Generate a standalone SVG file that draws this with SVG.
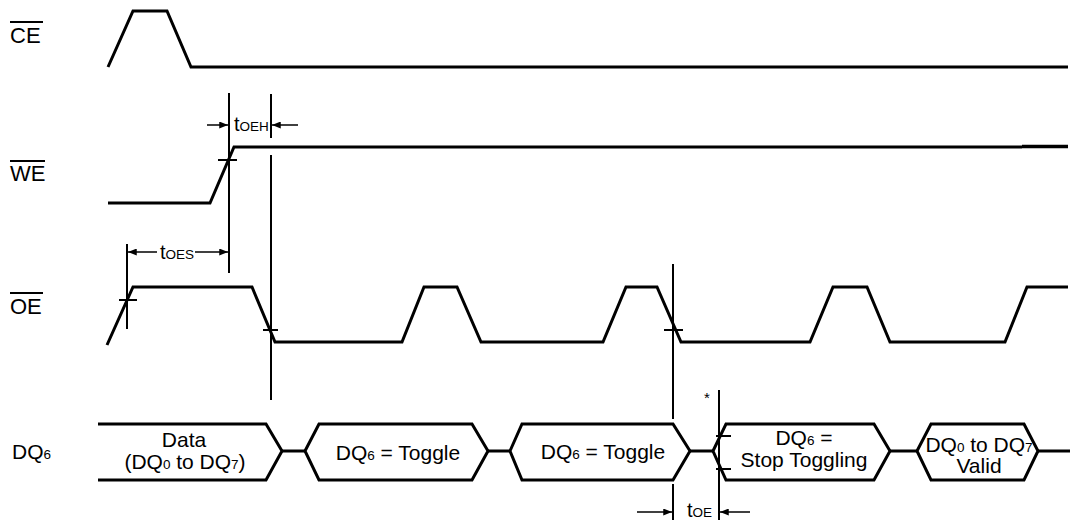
<svg xmlns="http://www.w3.org/2000/svg" width="1073" height="520" viewBox="0 0 1073 520">
<defs>
<style>
.w{fill:none;stroke:#000;stroke-width:3;stroke-linejoin:miter}
.t{fill:none;stroke:#000;stroke-width:2}
.a{fill:none;stroke:#000;stroke-width:1.5}
.lbl{font-family:"Liberation Sans",Arial,sans-serif;font-size:22px;fill:#000}
.bx{font-family:"Liberation Sans",Arial,sans-serif;font-size:21px;fill:#000}
.tm{font-family:"Liberation Sans",Arial,sans-serif;font-size:20px;fill:#000}
.sub{font-size:13.5px}
</style>
<marker id="ah" viewBox="0 0 10 8" refX="10" refY="4" markerWidth="9" markerHeight="7" markerUnits="userSpaceOnUse" orient="auto">
<path d="M0,0 L10,4 L0,8 Z" fill="#000"/>
</marker>
</defs>
<rect width="1073" height="520" fill="#fff"/>

<g id="ce">
<text class="lbl" x="10" y="43">CE</text>
<line class="t" x1="10" y1="22" x2="43" y2="22"/>
<path class="w" d="M108,67 L133,11 L167,11 L191,67 L1068,67"/>
</g>

<g id="we">
<text class="lbl" x="10" y="181">WE</text>
<line class="t" x1="10" y1="161" x2="45" y2="161"/>
<path class="w" d="M108,203 L210,203 L234,147 L1022,147"/>
<line x1="1022" y1="146.5" x2="1068" y2="146.5" stroke="#000" stroke-width="3.5"/>
<line class="t" x1="218" y1="160" x2="237" y2="160"/>
</g>

<g id="oe">
<text class="lbl" x="10" y="314">OE</text>
<line class="t" x1="10" y1="293" x2="43" y2="293"/>
<path class="w" d="M107,345 L133,287 L252,287 L275,342 L402,342 L424,287 L457,287 L481,342 L603,342 L626,287 L657,287 L681,342 L810,342 L833,287 L867,287 L890,342 L1005,342 L1027,287 L1068,287"/>
<line class="t" x1="119" y1="300" x2="137" y2="300"/>
<line class="t" x1="263" y1="330" x2="278" y2="330"/>
<line class="t" x1="664" y1="330" x2="683" y2="330"/>
</g>

<g id="dq6">
<text class="bx" x="12" y="459">DQ<tspan class="sub">6</tspan></text>
<path class="w" d="M98,424 L266,424 L282,451 L266,480 L98,480"/>
<path class="w" d="M282,451 L305,451 M488,451 L510,451 M690,451 L713,451 M890,451 L917,451 M1038,451 L1070,451"/>
<path class="w" d="M305,451 L319,424 L472,424 L488,451 L472,480 L319,480 Z"/>
<path class="w" d="M510,451 L522,424 L673,424 L690,451 L673,480 L522,480 Z"/>
<path class="w" d="M713,451 L726,424 L874,424 L890,451 L874,480 L726,480 Z"/>
<path class="w" d="M917,451 L931,424 L1024,424 L1038,451 L1024,480 L931,480 Z"/>
<line class="t" x1="716" y1="436" x2="731" y2="436"/>
<line class="t" x1="716" y1="469" x2="731" y2="469"/>
<text class="bx" x="184" y="447" text-anchor="middle">Data</text>
<text class="bx" x="185" y="469" text-anchor="middle">(DQ<tspan class="sub">0</tspan> to DQ<tspan class="sub">7</tspan>)</text>
<text class="bx" x="398" y="460" text-anchor="middle">DQ<tspan class="sub">6</tspan> = Toggle</text>
<text class="bx" x="603" y="459" text-anchor="middle">DQ<tspan class="sub">6</tspan> = Toggle</text>
<text class="bx" x="804" y="445" text-anchor="middle">DQ<tspan class="sub">6</tspan> =</text>
<text class="bx" x="804" y="467" text-anchor="middle">Stop Toggling</text>
<text class="bx" x="979" y="452" text-anchor="middle">DQ<tspan class="sub">0</tspan> to DQ<tspan class="sub">7</tspan></text>
<text class="bx" x="979" y="473" text-anchor="middle">Valid</text>
</g>

<g id="connectors">
<line class="t" x1="229" y1="93" x2="229" y2="273"/>
<line class="t" x1="271" y1="94" x2="271" y2="138"/>
<line class="t" x1="271" y1="155" x2="271" y2="400"/>
<line class="t" x1="127" y1="244" x2="127" y2="329"/>
<line class="t" x1="673" y1="264" x2="673" y2="419"/>
<line class="t" x1="673" y1="484" x2="673" y2="520"/>
<line class="t" x1="719" y1="390" x2="719" y2="520"/>
<line class="a" x1="207" y1="125" x2="228" y2="125" marker-end="url(#ah)"/>
<line class="a" x1="298" y1="125" x2="272" y2="125" marker-end="url(#ah)"/>
<line class="a" x1="157" y1="252" x2="128" y2="252" marker-end="url(#ah)"/>
<line class="a" x1="195" y1="252" x2="228" y2="252" marker-end="url(#ah)"/>
<line class="a" x1="637" y1="512" x2="672" y2="512" marker-end="url(#ah)"/>
<line class="a" x1="750" y1="512" x2="720" y2="512" marker-end="url(#ah)"/>
<text class="tm" x="234" y="131">t<tspan class="sub">OEH</tspan></text>
<text class="tm" x="160" y="259">t<tspan class="sub">OES</tspan></text>
<text class="tm" x="687" y="517">t<tspan class="sub">OE</tspan></text>
<text class="tm" x="704" y="403" style="font-size:15px">*</text>
</g>
</svg>
